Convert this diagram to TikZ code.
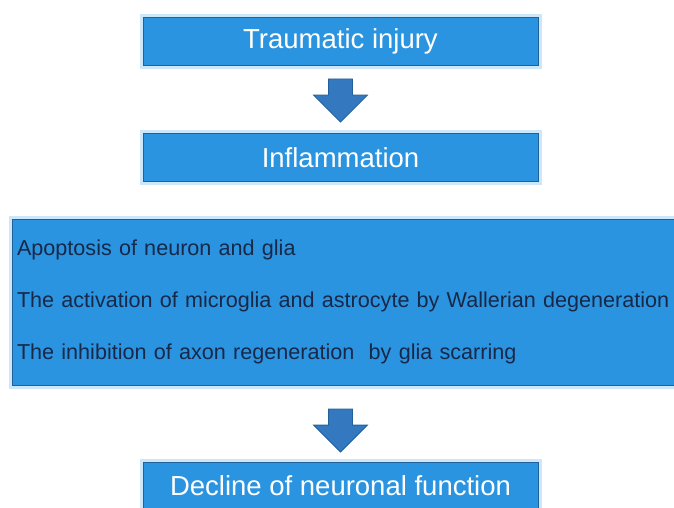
\documentclass[tikz,border=0pt]{standalone}
\usepackage{fontspec}
\setmainfont{Liberation Sans}
\usetikzlibrary{shapes.arrows}
\definecolor{boxblue}{RGB}{43,148,224}
\definecolor{boxedge}{RGB}{34,96,156}
\definecolor{glowblue}{RGB}{204,230,250}
\definecolor{arrowblue}{RGB}{52,121,192}
\definecolor{textnavy}{RGB}{24,40,72}
\tikzset{
  % box styles
  % stepbox: one step of the chain, white title
  stepbox/.style={rectangle,draw=boxedge,line width=1pt,fill=boxblue,
    preaction={draw=glowblue,line width=7pt},
    inner sep=0pt,minimum width=395pt,minimum height=48pt,
    text=white,font=\fontsize{27.5}{30}\selectfont},
  % listbox: the wide box with the three effects
  listbox/.style={stepbox,minimum width=670pt,minimum height=166pt,
    text width=660pt,align=left,text=textnavy,
    font=\fontsize{21.6}{52}\selectfont},
  % block arrow between two boxes
  downarrow/.style={single arrow,shape border rotate=270,draw=boxedge,
    line width=.8pt,fill=arrowblue,inner sep=11.5pt,yshift=5pt,
    minimum height=43pt,minimum width=53pt,single arrow head extend=15pt},
}
\begin{document}
\begin{tikzpicture}[x=1pt,y=-1pt]
  \useasboundingbox (0,0) rectangle (674,507);
  \clip (0,0) rectangle (674,507);
  \node[stepbox] (injury) at (340.5,41.5) {Traumatic injury};
  \node[stepbox] (inflam) at (340.5,157.5) {Inflammation};
  \node[listbox] (effects) at (347,302) {Apoptosis of neuron and glia\\
    The activation of microglia and astrocyte by Wallerian degeneration\\
    The inhibition of axon regeneration\ \ by glia scarring};
  \node[stepbox] (decline) at (340.5,486) {Decline of neuronal function};
  \path (injury) -- node[downarrow] {} (inflam);
  \path (effects.south -| decline) -- node[downarrow,pos=.58] {} (decline.north);
\end{tikzpicture}
\end{document}
